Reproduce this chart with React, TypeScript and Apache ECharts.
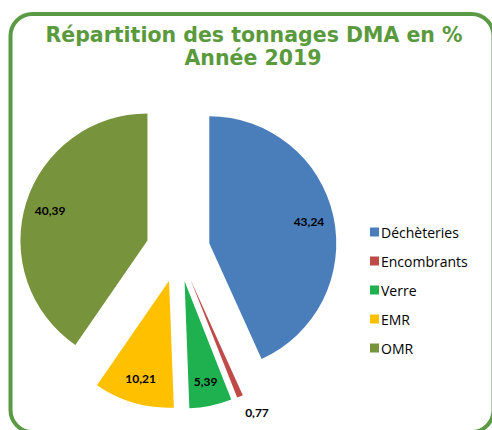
import React, { useEffect, useRef } from "react";
import * as echarts from "echarts";

const categories = ["Déchèteries", "Encombrants", "Verre", "EMR", "OMR"];
const values = [43.24, 0.77, 5.39, 10.21, 40.39];
const valueLabels = ["43,24", "0,77", "5,39", "10,21", "40,39"];
const colors = ["#4A7EBB", "#BE4B48", "#1FB050", "#FFC000", "#77933C"];
const titleLines = ["Répartition des tonnages DMA en %", "Année 2019"];

const CENTER: [number, number] = [178, 250];
const R = 127;
const OFFSET = 32;

export default function App() {
  const ref = useRef<HTMLDivElement>(null);
  useEffect(() => {
    if (!ref.current) return;
    const chart = echarts.init(ref.current, undefined, { renderer: "svg" });
    const baseData = categories.map((name, i) => ({
      name,
      value: values[i],
      selected: true,
      itemStyle: { color: colors[i] },
    }));
    const labelFont = {
      fontFamily: "Lato, 'Open Sans', sans-serif",
      fontWeight: "bold" as const,
      fontSize: 12,
      color: "#000",
    };
    const overlayData = (show: (i: number) => boolean) =>
      categories.map((name, i) => ({
        name: name + "_lbl",
        value: values[i],
        selected: true,
        itemStyle: { color: "rgba(0,0,0,0)" },
        label: { show: show(i), formatter: valueLabels[i] },
      }));
    const titleStyle = {
      color: "#5A9A3C",
      fontFamily: "'DejaVu Sans', sans-serif",
      fontWeight: "bold" as const,
      fontSize: 20.5,
      lineHeight: 23,
    };
    chart.setOption({
      animation: false,
      title: [
        { text: titleLines[0], left: 254, textAlign: "center", top: 23, padding: 0, textStyle: titleStyle },
        { text: titleLines[1], left: 253, textAlign: "center", top: 46, padding: 0, textStyle: titleStyle },
      ],
      legend: {
        orient: "vertical",
        left: 365,
        top: 220,
        itemWidth: 9,
        itemHeight: 9,
        itemGap: 15,
        icon: "rect",
        data: categories,
        textStyle: {
          fontFamily: "'Open Sans', sans-serif",
          fontSize: 14,
          color: "#000",
          padding: [0, 0, 0, -3],
        },
        selectedMode: false,
      },
      graphic: [
        {
          type: "rect",
          shape: { x: 10.5, y: 14, width: 483, height: 418, r: 22 },
          style: { fill: "none", stroke: "#5B9A45", lineWidth: 4 },
          silent: true,
        },
      ],
      series: [
        {
          type: "pie",
          center: CENTER,
          radius: [0, R],
          startAngle: 90,
          clockwise: true,
          selectedMode: "multiple",
          selectedOffset: OFFSET,
          label: { show: false },
          labelLine: { show: false },
          emphasis: { disabled: true },
          silent: true,
          data: baseData,
        },
        {
          type: "pie",
          center: CENTER,
          radius: [71, R],
          startAngle: 90,
          clockwise: true,
          selectedMode: "multiple",
          selectedOffset: OFFSET,
          label: { position: "inside", ...labelFont },
          labelLine: { show: false },
          emphasis: { disabled: true },
          silent: true,
          legendHoverLink: false,
          data: overlayData((i) => i !== 1),
        },
        {
          type: "pie",
          center: CENTER,
          radius: [139, 152],
          startAngle: 93,
          clockwise: true,
          selectedMode: "multiple",
          selectedOffset: OFFSET,
          label: { position: "inside", ...labelFont },
          labelLine: { show: false },
          emphasis: { disabled: true },
          silent: true,
          legendHoverLink: false,
          data: overlayData((i) => i === 1),
        },
      ],
    });
    return () => chart.dispose();
  }, []);
  return (
    <div
      ref={ref}
      style={{ position: "absolute", left: 0, top: 0, width: 492, height: 430 }}
    />
  );
}
